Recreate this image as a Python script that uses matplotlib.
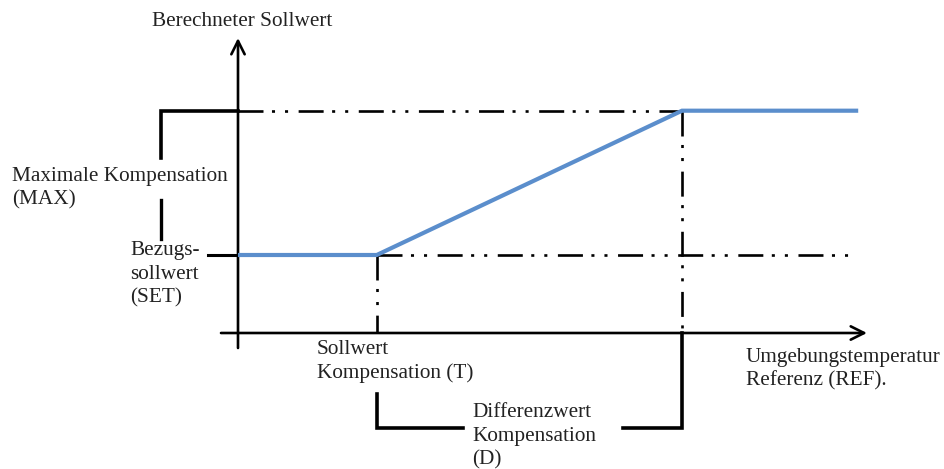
import numpy as np
from matplotlib import pyplot as plt

plt.rcParams['lines.scale_dashes'] = False

# ---------------- Kennlinie (abstract units, origin = Achsenkreuz) ----------------
ref_x = [0.0, 1.0, 3.2, 4.47]          # Umgebungstemperatur Referenz
sollwert_y = [1.0, 1.0, 2.85, 2.85]    # Berechneter Sollwert
SET = 1.0
MAX = 2.85
T = 1.0
T_PLUS_D = 3.2
X_END = 4.47

# ---------------- layout (pixel) -----------------------------------------------
W, H = 944, 469
X0_PX, Y0_PX = 238, 333      # Achsenkreuz in pixels
SX, SY = 138.75, 78.0        # pixels per unit


def px(x):
    return (x - X0_PX) / SX


def py(y):
    return (Y0_PX - y) / SY


fig = plt.figure(figsize=(W / 100, H / 100), dpi=100)
ax = fig.add_axes([0, 0, 1, 1])
ax.set_xlim(px(0), px(W))
ax.set_ylim(py(H), py(0))
ax.axis('off')

black = '#000000'
blue = '#5B8ECC'
dashdotdot = (0, (18, 6.1, 2.2, 7.2, 2.2, 7.6))

# ---------------- axes with arrows ----------------------------------------------
arrow = dict(arrowstyle='->', lw=1.9, color=black, mutation_scale=24,
             shrinkA=0, shrinkB=0)
ax.annotate('', xy=(0, py(38)), xytext=(0, py(348)), arrowprops=arrow)
ax.annotate('', xy=(px(867), 0), xytext=(px(221), 0), arrowprops=arrow)

# ---------------- helper lines (dash dot dot) -----------------------------------
ax.plot([0, T_PLUS_D], [MAX, MAX], color=black, lw=1.9, ls=dashdotdot)
ax.plot([T, X_END], [SET, SET], color=black, lw=1.9, ls=dashdotdot)
ax.plot([T, T], [SET, 0], color=black, lw=1.9, ls=dashdotdot)
ax.plot([T_PLUS_D, T_PLUS_D], [MAX, 0], color=black, lw=1.9, ls=dashdotdot)

# ---------------- brackets ------------------------------------------------------
ax.plot([px(161), px(161), 0], [py(158), MAX, MAX], color=black, lw=2.6,
        solid_joinstyle='miter')
ax.plot([px(161), px(161)], [py(200), py(239)], color=black, lw=2.4)
ax.plot([px(208), 0], [SET, SET], color=black, lw=2.2)
ax.plot([T, T, px(463)], [py(394), py(428), py(428)], color=black, lw=2.6,
        solid_joinstyle='miter')
ax.plot([px(623), T_PLUS_D, T_PLUS_D], [py(428), py(428), 0], color=black,
        lw=2.6, solid_joinstyle='miter')

# ---------------- Kennlinie -----------------------------------------------------
ax.plot(ref_x, sollwert_y, color=blue, lw=3.0, solid_capstyle='butt',
        solid_joinstyle='miter', zorder=5)

# ---------------- labels --------------------------------------------------------
labels = [
    (['Berechneter Sollwert'], 152, 26),
    (['Maximale Kompensation', '(MAX)'], 12, 181),
    (['Bezugs-', 'sollwert', '(SET)'], 130, 255),
    (['Sollwert', 'Kompensation (T)'], 317, 354),
    (['Differenzwert', 'Kompensation', '(D)'], 472, 417),
    (['Umgebungstemperatur', 'Referenz (REF).'], 746, 362),
]
step = 23.5
for lines, x_left, base in labels:
    for i, line in enumerate(lines):
        ax.text(px(x_left), py(base + i * step), line, ha='left', va='baseline',
                fontsize=15.3, family='Liberation Serif', color='#222222')

fig.savefig('out.png', dpi=100)
